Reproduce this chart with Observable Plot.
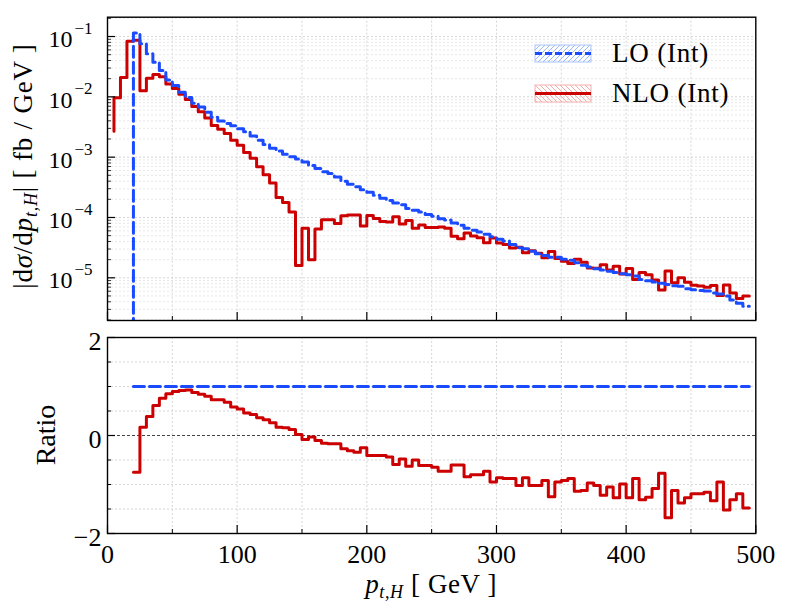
<!DOCTYPE html>
<html><head><meta charset="utf-8">
<script src="https://cdn.jsdelivr.net/npm/d3@7"></script>
<script src="https://cdn.jsdelivr.net/npm/@observablehq/plot@0.6"></script>
<style>
html,body{margin:0;padding:0;background:#fff;}
#fig{position:relative;width:789px;height:613px;overflow:hidden;}
#fig svg{position:absolute;left:0;}
</style></head><body><div id="fig"></div>
<script>
// ---- data ----
const BIN = 5; // GeV bin width
const loStart = 20; // first LO bin lower edge
const lo = [1.14e-1,7.57e-2,5.16e-2,3.75e-2,2.73e-2,1.91e-2,1.54e-2,1.19e-2,9.77e-3,7.83e-3,
6.76e-3,5.56e-3,4.59e-3,3.98e-3,3.63e-3,3.31e-3,2.95e-3,2.63e-3,2.24e-3,1.91e-3,
1.62e-3,1.41e-3,1.26e-3,1.12e-3,1.02e-3,9.33e-4,8.32e-4,7.24e-4,6.46e-4,5.75e-4,
5.37e-4,4.68e-4,3.98e-4,3.55e-4,3.24e-4,2.88e-4,2.63e-4,2.34e-4,2.09e-4,1.91e-4,
1.74e-4,1.62e-4,1.41e-4,1.32e-4,1.23e-4,1.12e-4,1.05e-4,9.55e-5,9.12e-5,8.13e-5,
7.41e-5,6.61e-5,6.17e-5,5.75e-5,5.25e-5,4.79e-5,4.37e-5,4.07e-5,3.55e-5,3.16e-5,
3.02e-5,2.75e-5,2.51e-5,2.34e-5,2.19e-5,2.19e-5,2.04e-5,1.95e-5,1.78e-5,1.62e-5,
1.51e-5,1.41e-5,1.35e-5,1.29e-5,1.23e-5,1.17e-5,1.12e-5,1.07e-5,9.33e-6,8.91e-6,
8.51e-6,8.13e-6,7.76e-6,7.41e-6,7.24e-6,6.61e-6,6.31e-6,6.17e-6,6.03e-6,5.62e-6,
5.37e-6,5.01e-6,4.27e-6,3.80e-6,3.39e-6];
const nloStart = 5; // first NLO bin lower edge
const nloFirstPoint = 2.7e-3; // value where the NLO step line begins at 5 GeV
const nlo = [9.7e-3,2.1e-2,8.36e-2,8.7e-2,1.26e-2,2.04e-2,2.35e-2,2.15e-2,1.63e-2,1.38e-2,
1.10e-2,9.04e-3,6.89e-3,5.68e-3,4.45e-3,3.35e-3,2.90e-3,2.47e-3,1.91e-3,1.58e-3,
1.20e-3,9.55e-4,6.92e-4,5.13e-4,3.72e-4,2.14e-4,1.78e-4,1.23e-4,1.6e-5,6.66e-5,
2.0e-5,6.46e-5,9.2e-5,9.13e-5,7.96e-5,1.07e-4,1.10e-4,1.10e-4,7.2e-5,1.08e-4,
9.6e-5,8.57e-5,8.4e-5,1.03e-4,7.78e-5,8.88e-5,6.6e-5,7.5e-5,6.83e-5,6.83e-5,
6.97e-5,6.66e-5,4.88e-5,4.45e-5,5.55e-5,4.94e-5,4.6e-5,3.83e-5,4.55e-5,3.76e-5,
3.58e-5,3.12e-5,3.22e-5,2.6e-5,2.8e-5,2.56e-5,2.15e-5,2.74e-5,2.08e-5,1.88e-5,
1.72e-5,2.03e-5,1.81e-5,1.46e-5,1.44e-5,1.65e-5,1.35e-5,1.56e-5,1.16e-5,1.42e-5,
9.4e-6,1.22e-5,1.12e-5,9.2e-6,6.26e-6,1.30e-5,8.3e-6,1.0e-5,8.4e-6,7.5e-6,
7.34e-6,7.0e-6,7.47e-6,5.1e-6,7.6e-6,5.6e-6,4.52e-6,5.0e-6];
const ratioStart = 20;
const ratio = [-0.75,0.17,0.39,0.61,0.76,0.85,0.90,0.92,0.93,0.88,
0.84,0.80,0.73,0.73,0.68,0.58,0.54,0.46,0.43,0.36,
0.32,0.26,0.17,0.16,0.12,0.02,-0.08,-0.03,-0.10,-0.16,
-0.17,-0.17,-0.27,-0.31,-0.34,-0.25,-0.41,-0.41,-0.41,-0.44,
-0.59,-0.48,-0.63,-0.50,-0.61,-0.61,-0.65,-0.73,-0.73,-0.60,
-0.60,-0.84,-0.80,-0.80,-0.73,-0.95,-0.86,-0.88,-0.88,-1.02,
-0.86,-1.02,-1.02,-0.92,-1.25,-0.95,-0.92,-0.88,-1.14,-1.12,
-0.97,-1.02,-1.22,-1.05,-1.27,-0.99,-1.27,-0.88,-1.31,-1.26,
-1.08,-0.77,-1.68,-1.12,-1.38,-1.27,-1.19,-1.19,-1.16,-1.33,
-0.95,-1.52,-1.31,-1.19,-1.48];
const xTicks = [0,100,200,300,400,500];
const xMinorTicks = [50,150,250,350,450];
const xGrid = [50,100,150,200,250,300,350,400,450];
const decadeTicks = [1e-5,1e-4,1e-3,1e-2,1e-1];
const ratioTicks = [-2,0,2];
const ratioMinorTicks = [-1.5,-1,-0.5,0.5,1,1.5];
const seriesNames = ["LO (Int)", "NLO (Int)"];

// ---- styling ----
const BLUE = "#1a4bff", RED = "#cc0000";
const FONT = "Liberation Serif, serif";
const W = 789, ML = 107, MR = 33.7;
const FW = W - ML - MR;
const yDomain = [1.96e-6, 0.209];
const LW = 3;
const DASH = "11,5";

function stepVertices(start, values, firstPoint) {
  const pts = [];
  if (firstPoint != null) pts.push({x: start, y: firstPoint});
  values.forEach((v, i) => {
    const a = start + i * BIN;
    pts.push({x: a, y: v}, {x: a + BIN, y: v});
  });
  return pts;
}
const loPts = stepVertices(loStart, lo, yDomain[0] / 100);
const nloPts = stepVertices(nloStart, nlo, nloFirstPoint);
const ratioPts = stepVertices(ratioStart, ratio);
const loRatioPts = stepVertices(loStart, lo.map(v => v / v));

const logGrid = [];
for (let e = -6; e <= -1; e++) for (let k = 2; k <= 9; k++) {
  const v = k * Math.pow(10, e);
  if (v >= yDomain[0] && v <= yDomain[1]) logGrid.push(v);
}

const gridStyle = {stroke: "#cccccc", strokeWidth: 0.8, strokeDasharray: "2,2"};
const minorGridStyle = {stroke: "#e2e2e2", strokeWidth: 0.8, strokeDasharray: "2,2"};

// ---- top panel ----
const TOPH = 330, TMT = 16.7, TMB = 10;
const TFH = TOPH - TMT - TMB;
const topPlot = Plot.plot({
  width: W, height: TOPH,
  marginTop: TMT, marginBottom: TMB, marginLeft: ML, marginRight: MR,
  style: {fontFamily: FONT, background: "white", color: "black", overflow: "visible"},
  x: {domain: [0, 500], axis: null},
  y: {type: "log", domain: yDomain, axis: null},
  marks: [
    Plot.ruleX(xGrid, gridStyle),
    Plot.ruleY(logGrid, minorGridStyle),
    Plot.ruleY(decadeTicks, gridStyle),
    Plot.line(nloPts, {x: "x", y: "y", stroke: RED, strokeWidth: LW, clip: true}),
    Plot.line(loPts, {x: "x", y: "y", stroke: BLUE, strokeWidth: LW, strokeDasharray: DASH, clip: true}),
    Plot.frame({stroke: "black", strokeWidth: 1.4}),
    Plot.tickX(xTicks, {x: d => d, insetTop: TFH - 8, strokeWidth: 1.2}),
    Plot.tickX(xMinorTicks, {x: d => d, insetTop: TFH - 4, strokeWidth: 1}),
    Plot.tickY(decadeTicks, {y: d => d, insetRight: FW - 8, strokeWidth: 1.2}),
    Plot.tickY(logGrid, {y: d => d, insetRight: FW - 4, strokeWidth: 0.8}),
    Plot.text(decadeTicks, {y: d => d, frameAnchor: "left", text: () => "10", textAnchor: "end", dx: -35, dy: 3, fontSize: 24}),
    Plot.text(decadeTicks, {y: d => d, frameAnchor: "left", text: d => "\u2212" + Math.round(-Math.log10(d)), textAnchor: "start", dx: -33, dy: -8, fontSize: 17})
  ]
});

// ---- ratio panel ----
const BOTH = 283, BMT = 7, BMB = 80;
const BFH = BOTH - BMT - BMB;
const fmtRatio = d => d < 0 ? "\u2212" + Math.abs(d) : String(d);
const botPlot = Plot.plot({
  width: W, height: BOTH,
  marginTop: BMT, marginBottom: BMB, marginLeft: ML, marginRight: MR,
  style: {fontFamily: FONT, background: "white", color: "black", overflow: "visible"},
  x: {domain: [0, 500], axis: null},
  y: {domain: [-2, 2], axis: null},
  marks: [
    Plot.ruleX(xGrid, gridStyle),
    Plot.ruleY(ratioMinorTicks, gridStyle),
    Plot.ruleY([0], {stroke: "#444", strokeWidth: 1, strokeDasharray: "3,2"}),
    Plot.line(ratioPts, {x: "x", y: "y", stroke: RED, strokeWidth: LW, clip: true}),
    Plot.line(loRatioPts, {x: "x", y: "y", stroke: BLUE, strokeWidth: LW, strokeDasharray: DASH, clip: true}),
    Plot.frame({stroke: "black", strokeWidth: 1.4}),
    Plot.tickX(xTicks, {x: d => d, insetTop: BFH - 8, strokeWidth: 1.2}),
    Plot.tickX(xMinorTicks, {x: d => d, insetTop: BFH - 4, strokeWidth: 1}),
    Plot.tickY(ratioTicks, {y: d => d, insetRight: FW - 8, strokeWidth: 1.2}),
    Plot.tickY(ratioMinorTicks, {y: d => d, insetRight: FW - 4, strokeWidth: 1}),
    Plot.text(ratioTicks, {y: d => d, frameAnchor: "left", text: fmtRatio, textAnchor: "end", dx: -6, dy: 4, fontSize: 26}),
    Plot.text(xTicks, {x: d => d, frameAnchor: "bottom", text: d => String(d), lineAnchor: "top", dy: 11, fontSize: 26})
  ]
});

const fig = document.getElementById("fig");
topPlot.style.top = "0px";
botPlot.style.top = TOPH + "px";
fig.appendChild(topPlot);
fig.appendChild(botPlot);

// ---- titles ----
const ts = d3.select(topPlot);
const yt = ts.append("text")
  .attr("transform", "translate(32,166) rotate(-90)")
  .attr("text-anchor", "middle").attr("font-family", FONT).attr("font-size", 27)
  .attr("letter-spacing", 0.8).attr("fill", "black");
yt.append("tspan").text("|d");
yt.append("tspan").attr("font-style", "italic").text("σ");
yt.append("tspan").text("/d");
yt.append("tspan").attr("font-style", "italic").text("p");
yt.append("tspan").attr("font-style", "italic").attr("font-size", 18).attr("dy", 5).text("t,H");
yt.append("tspan").attr("dy", -5).text("| [ fb / GeV ]");

const bs = d3.select(botPlot);
bs.append("text")
  .attr("transform", `translate(55,${435 - TOPH}) rotate(-90)`)
  .attr("text-anchor", "middle").attr("font-family", FONT).attr("font-size", 28)
  .attr("fill", "black").text("Ratio");
const xt = bs.append("text")
  .attr("x", ML + FW / 2).attr("y", 593 - TOPH)
  .attr("text-anchor", "middle").attr("font-family", FONT).attr("font-size", 27)
  .attr("letter-spacing", 0.6).attr("fill", "black");
xt.append("tspan").attr("font-style", "italic").text("p");
xt.append("tspan").attr("font-style", "italic").attr("font-size", 18).attr("dy", 5).text("t,H");
xt.append("tspan").attr("dy", -5).text(" [ GeV ]");

// ---- legend ----
const defs = ts.append("defs");
defs.append("pattern").attr("id", "hatchBlue").attr("patternUnits", "userSpaceOnUse")
  .attr("width", 5).attr("height", 5)
  .append("path").attr("d", "M-1,1 l2,-2 M0,5 l5,-5 M4,6 l2,-2")
  .attr("stroke", "#8fb2ff").attr("stroke-width", 0.9);
defs.append("pattern").attr("id", "hatchRed").attr("patternUnits", "userSpaceOnUse")
  .attr("width", 5).attr("height", 5)
  .append("path").attr("d", "M-1,4 l2,2 M0,0 l5,5 M4,-1 l2,2")
  .attr("stroke", "#f3a3a3").attr("stroke-width", 0.9);
const legend = [
  {name: seriesNames[0], y: 45, pat: "hatchBlue", edge: "#a9c4ff", color: BLUE, dash: "7,3"},
  {name: seriesNames[1], y: 85, pat: "hatchRed", edge: "#f3b0b0", color: RED, dash: null}
];
const lg = ts.append("g");
legend.forEach(d => {
  lg.append("rect").attr("x", 535).attr("y", d.y).attr("width", 56).attr("height", 17)
    .attr("fill", `url(#${d.pat})`).attr("stroke", d.edge).attr("stroke-width", 1);
  const ln = lg.append("line").attr("x1", 535).attr("x2", 591).attr("y1", d.y + 8.5).attr("y2", d.y + 8.5)
    .attr("stroke", d.color).attr("stroke-width", LW);
  if (d.dash) ln.attr("stroke-dasharray", d.dash);
  lg.append("text").attr("x", 612).attr("y", d.y + 17).attr("text-anchor", "start").attr("font-family", FONT)
    .attr("font-size", 27).attr("letter-spacing", 0.8).attr("fill", "black").text(d.name);
});
</script></body></html>
